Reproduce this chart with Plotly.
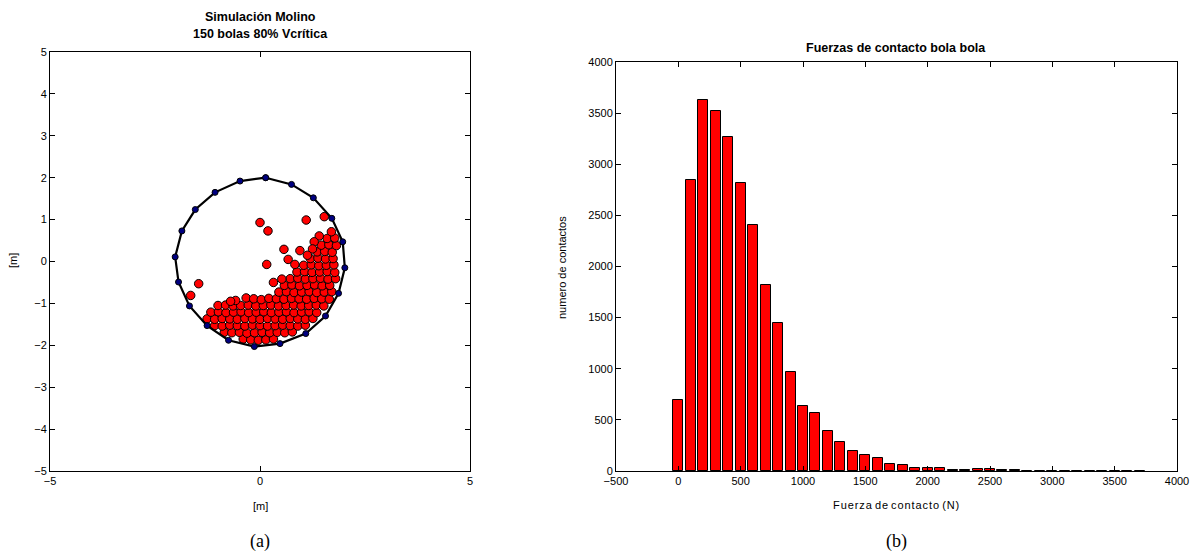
import plotly.graph_objects as go

# ---------------- data ----------------
# Mill liner / lifter points (closed polygon)
liner_x = [0.135, -0.476, -1.07, -1.54, -1.86, -2.02, -1.94, -1.68, -1.26, -0.75,
           -0.135, 0.476, 1.09, 1.56, 1.87, 2.02, 1.97, 1.71, 1.27, 0.75, 0.135]
liner_y = [2.00, 1.92, 1.65, 1.24, 0.73, 0.11, -0.49, -1.06, -1.53, -1.88,
           -2.03, -1.96, -1.72, -1.30, -0.76, -0.15, 0.47, 1.03, 1.52, 1.84, 2.00]

# Balls (x, y)
ball_x = [
    -0.40, -0.22, -0.04, 0.14, 0.32,
    -0.85, -0.67, -0.49, -0.31, -0.13, 0.05, 0.23, 0.41, 0.59, 0.77,
    -1.08, -0.90, -0.72, -0.54, -0.36, -0.18, 0.00, 0.18, 0.36, 0.54, 0.72, 0.90, 1.08,
    -1.26, -1.08, -0.90, -0.72, -0.54, -0.36, -0.18, 0.00, 0.18, 0.36, 0.54, 0.72, 0.90, 1.08, 1.26,
    -1.17, -0.99, -0.81, -0.63, -0.45, -0.27, -0.09, 0.09, 0.27, 0.45, 0.63, 0.81, 0.99, 1.17, 1.35,
    -1.00, -0.82, -0.64, -0.46, -0.28, -0.10, 0.08, 0.26, 0.44, 0.62, 0.80, 0.98, 1.16, 1.34, 1.52,
    -0.33, -0.15, 0.03, 0.21, 0.39, 0.57, 0.75, 0.93, 1.11, 1.29, 1.47, 1.65,
    0.45, 0.63, 0.81, 0.99, 1.17, 1.35, 1.53, 1.71,
    0.58, 0.76, 0.94, 1.12, 1.30, 1.48, 1.66,
    0.72, 0.90, 1.08, 1.26, 1.44, 1.62, 1.80,
    0.88, 1.06, 1.24, 1.42, 1.60, 1.78,
    1.04, 1.22, 1.40, 1.58, 1.76,
    1.20, 1.38, 1.56, 1.74,
    1.36, 1.54, 1.72,
    1.46, 1.64, 1.82,
    1.60, 1.78,
    1.70,
    0.00, 0.19, 1.10, 1.53, 0.57, 0.95, 0.16, -1.46, -1.65, 0.32, 0.67, 0.83, 1.41, 1.29,
    -0.58, 0.52, 1.25, -0.70, 1.13,
]
ball_y = [
    -1.85, -1.87, -1.88, -1.87, -1.85,
    -1.69, -1.70, -1.69, -1.71, -1.70, -1.69, -1.70, -1.69, -1.70, -1.68,
    -1.53, -1.54, -1.52, -1.53, -1.54, -1.52, -1.53, -1.54, -1.53, -1.52, -1.53, -1.54, -1.52,
    -1.37, -1.38, -1.36, -1.37, -1.38, -1.36, -1.37, -1.38, -1.36, -1.37, -1.38, -1.36, -1.37, -1.38, -1.36,
    -1.21, -1.20, -1.22, -1.21, -1.20, -1.22, -1.21, -1.20, -1.22, -1.21, -1.20, -1.22, -1.21, -1.20, -1.22,
    -1.05, -1.04, -1.06, -1.05, -1.04, -1.06, -1.05, -1.04, -1.06, -1.05, -1.04, -1.06, -1.05, -1.04, -1.06,
    -0.87, -0.89, -0.91, -0.88, -0.89, -0.90, -0.88, -0.89, -0.90, -0.88, -0.89, -0.90,
    -0.73, -0.72, -0.74, -0.73, -0.72, -0.74, -0.73, -0.72,
    -0.57, -0.56, -0.58, -0.57, -0.56, -0.58, -0.57,
    -0.41, -0.40, -0.42, -0.41, -0.40, -0.42, -0.41,
    -0.25, -0.24, -0.26, -0.25, -0.24, -0.26,
    -0.09, -0.08, -0.10, -0.09, -0.08,
    0.07, 0.08, 0.06, 0.07,
    0.23, 0.24, 0.22,
    0.39, 0.40, 0.38,
    0.55, 0.56,
    0.71,
    0.93, 0.73, 0.99, 1.07, 0.29, 0.26, -0.07, -0.53, -0.81, -0.50, 0.05, -0.07, 0.61, 0.47,
    -0.93, -0.42, 0.30, -0.95, 0.15,
]

# Histogram of contact forces
force_bins = [0, 100, 200, 300, 400, 500, 600, 700, 800, 900,
              1000, 1100, 1200, 1300, 1400, 1500, 1600, 1700, 1800, 1900,
              2000, 2100, 2200, 2300, 2400, 2500, 2600, 2700, 2800, 2900,
              3000, 3100, 3200, 3300, 3400, 3500, 3600, 3700]
contact_counts = [690, 2850, 3625, 3520, 3265, 2815, 2410, 1820, 1450, 965,
                  640, 570, 395, 285, 195, 160, 125, 70, 55, 30,
                  30, 30, 12, 12, 20, 20, 10, 5, 3, 3,
                  2, 2, 4, 1, 1, 1, 0, 3]

left_yticks = [-5, -4, -3, -2, -1, 0, 1, 2, 3, 4, 5]
left_xticks = [-5, 0, 5]
right_xticks = [-500, 0, 500, 1000, 1500, 2000, 2500, 3000, 3500, 4000]
right_yticks = [0, 500, 1000, 1500, 2000, 2500, 3000, 3500, 4000]

# ---------------- figure ----------------
W, H = 1200, 554
FONT = "Liberation Sans, Arial, sans-serif"

fig = go.Figure()

fig.add_trace(go.Scatter(
    x=ball_x, y=ball_y, mode="markers", xaxis="x", yaxis="y",
    marker=dict(size=8.5, color="#ff0000", line=dict(color="black", width=1)),
    showlegend=False, hoverinfo="skip"))

fig.add_trace(go.Scatter(
    x=liner_x, y=liner_y, mode="lines+markers", xaxis="x", yaxis="y",
    line=dict(color="black", width=2.2),
    marker=dict(size=6, color="#000080", line=dict(color="black", width=1)),
    showlegend=False, hoverinfo="skip"))

fig.add_trace(go.Bar(
    x=force_bins, y=contact_counts, xaxis="x2", yaxis="y2", width=80,
    marker=dict(color="#ff0000", line=dict(color="black", width=1)),
    showlegend=False))

def px_dom_x(a, b):
    return [a / W, b / W]

def px_dom_y(top, bottom):
    return [(H - bottom) / H, (H - top) / H]

axis_common = dict(showline=True, linecolor="black", linewidth=1, mirror="ticks",
                   ticks="inside", ticklen=5, tickcolor="black", showgrid=False,
                   zeroline=False, automargin=False,
                   tickfont=dict(family=FONT, size=11, color="black"))

fig.update_layout(
    width=W, height=H, margin=dict(l=0, r=0, t=0, b=0, autoexpand=False),
    paper_bgcolor="white", plot_bgcolor="white",
    bargap=0,
    xaxis=dict(domain=px_dom_x(50, 470), range=[-5, 5], tickvals=left_xticks,
               anchor="y", **axis_common),
    yaxis=dict(domain=px_dom_y(52, 471), range=[-5, 5], tickvals=left_yticks,
               anchor="x", **axis_common),
    xaxis2=dict(domain=px_dom_x(616, 1177), range=[-500, 4000], tickvals=right_xticks,
                anchor="y2", **axis_common),
    yaxis2=dict(domain=px_dom_y(62, 471), range=[0, 4000], tickvals=right_yticks,
                anchor="x2", **axis_common),
)

def ann(text, x, y, size=11, bold=False, angle=0, family=FONT):
    fig.add_annotation(text=("<b>%s</b>" % text) if bold else text,
                       x=x / W, y=1 - y / H, xref="paper", yref="paper",
                       showarrow=False, textangle=angle,
                       font=dict(family=family, size=size, color="black"),
                       xanchor="center", yanchor="middle")

ann("Simulación Molino", 260, 17, size=12.5, bold=True)
ann("150 bolas 80% Vcrítica", 260, 34, size=12.5, bold=True)
ann("[m]", 260, 506, size=11)
ann("[m]", 13, 261, size=11, angle=-90)
ann("Fuerzas de contacto bola bola", 896, 48, size=12.5, bold=True)
ann("F u e r z a   d e   c o n t a c t o   ( N )".replace(" ", "&#8202;").replace("&#8202;&#8202;&#8202;", " "),
    896, 505, size=11)
ann("numero de contactos", 562, 268, size=11, angle=-90)
ann("(a)", 260, 541, size=18, family="Liberation Serif, Times New Roman, serif")
ann("(b)", 896, 541, size=18, family="Liberation Serif, Times New Roman, serif")

fig.write_html("out.html")
